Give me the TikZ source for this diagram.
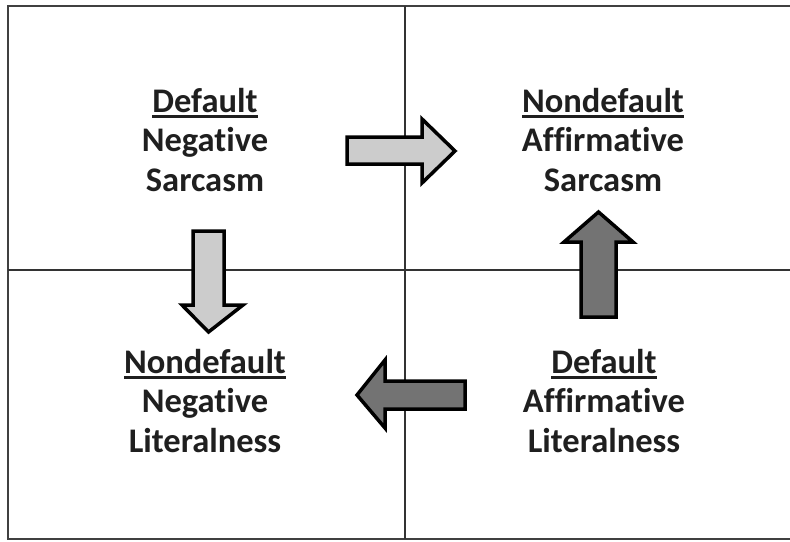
\documentclass[tikz,border=0pt]{standalone}
\usepackage{fontspec}
\setmainfont{Carlito}[Ligatures=NoCommon]
\newlength\ulw
\newcommand\ulbox[1]{\settowidth\ulw{#1}#1\llap{\rule[-5.5pt]{\ulw}{2.6pt}}}
\begin{document}
\begin{tikzpicture}[x=1pt,y=-1pt,
  lbl/.style={align=center,font=\bfseries\fontsize{34.5}{39.5}\selectfont,text=black!88,inner sep=0pt,anchor=north},
  frame/.style={line width=2pt,draw=black!75},
  divider/.style={line width=1.5pt,draw=black!80},
  lightarrow/.style={fill=black!20,draw=black,line width=3.5pt,line join=miter},
  darkarrow/.style={fill=black!55,draw=black,line width=3.5pt,line join=miter}]
\useasboundingbox (0,0) rectangle (790,541);
\fill[white] (0,0) rectangle (790,541);
% frame
\draw[frame] (792,6) -- (8,6) -- (8,539) -- (792,539);
\draw[divider] (405,6) -- (405,539);
\draw[divider] (8,270) -- (792,270);
% labels
\node[lbl] (tl) at (205,88) {\ulbox{Default}\\Negative\\Sarcasm};
\node[lbl] (tr) at (603,88) {\ulbox{Nondefault}\\Affirmative\\Sarcasm};
\node[lbl] (bl) at (205,349) {\ulbox{Nondefault}\\Negative\\Literalness};
\node[lbl] (br) at (604,349) {\ulbox{Default}\\Affirmative\\Literalness};
% arrows
\draw[lightarrow] (347,137) -- (422,137) -- (422,119) -- (455,151) -- (422,183) -- (422,164) -- (347,164) -- cycle;
\draw[lightarrow] (193,231) -- (224,231) -- (224,305) -- (243,305) -- (208.5,332) -- (182,305) -- (193,305) -- cycle;
\draw[darkarrow] (581,317) -- (616,317) -- (616,242) -- (633,242) -- (598.5,212) -- (564,242) -- (581,242) -- cycle;
\draw[darkarrow] (465,381) -- (385,381) -- (385,360) -- (357,395) -- (385,428) -- (385,409) -- (465,409) -- cycle;
\end{tikzpicture}
\end{document}
